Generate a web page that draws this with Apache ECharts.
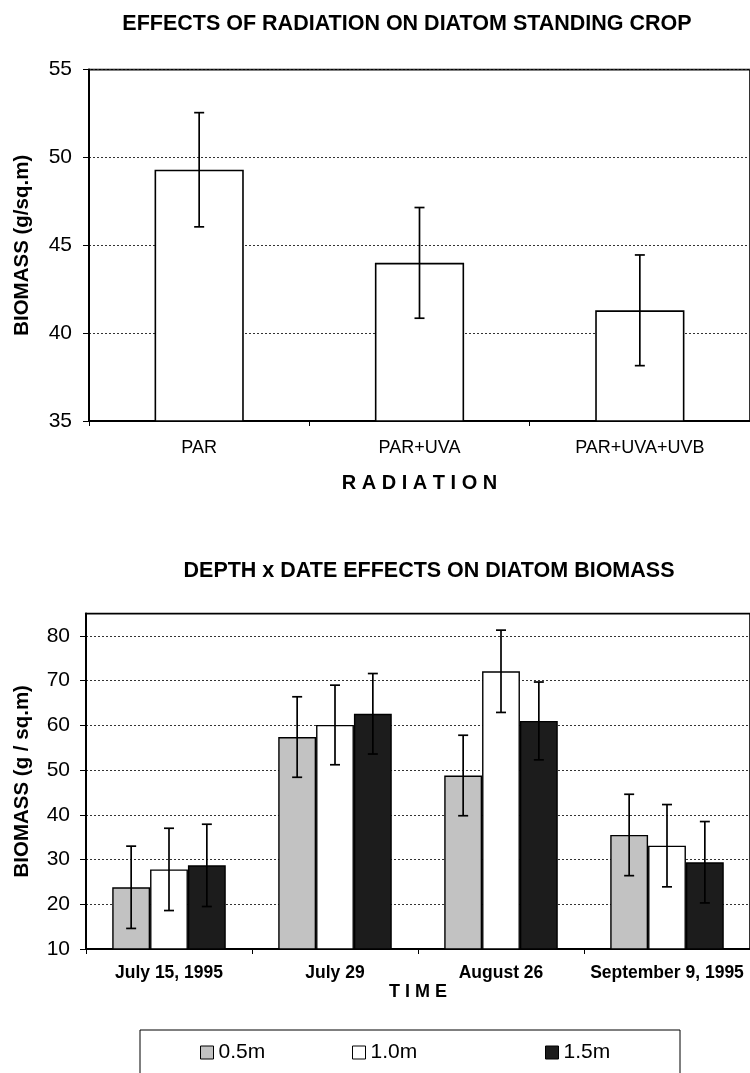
<!DOCTYPE html>
<html>
<head>
<meta charset="utf-8">
<script src="https://cdn.jsdelivr.net/npm/echarts@6/dist/echarts.min.js"></script>
<style>
html,body{margin:0;padding:0;background:#fff;}
#c{width:750px;height:1073px;}
</style>
</head>
<body>
<div id="c"></div>
<script>
// ---- Data (top chart) ----
const radiationCats = ['PAR', 'PAR+UVA', 'PAR+UVA+UVB'];
const radiationMean = [49.3, 44.0, 41.3];
const radiationErr = [3.25, 3.15, 3.15];
const yTicksTop = [35, 40, 45, 50, 55];

// ---- Data (bottom chart) ----
const dateCats = ['July 15, 1995', 'July 29', 'August 26', 'September 9, 1995'];
const depthNames = ['0.5m', '1.0m', '1.5m'];
const depth05 = [23.8, 57.4, 48.8, 35.5];
const depth10 = [27.8, 60.1, 72.1, 33.1];
const depth15 = [28.7, 62.6, 61.0, 29.4];
const err05 = [9.2, 9.0, 9.0, 9.1];
const err10 = [9.2, 8.9, 9.2, 9.2];
const err15 = [9.2, 9.0, 8.7, 9.1];
const yTicksBottom = [10, 20, 30, 40, 50, 60, 70, 80];

const FONT = "'Liberation Sans', Arial, sans-serif";
const BAR_FRAC_BOTTOM = 0.228;
const BAR_FRAC_TOP = 0.405;

function errData(means, errs) {
  return means.map((m, i) => [i, m, errs[i]]);
}

function makeErrRender(slot, nSlots, frac) {
  return function (params, api) {
    const i = api.value(0), m = api.value(1), e = api.value(2);
    const bw = api.size([1, 0])[0] * frac;
    const off = (slot - (nSlots - 1) / 2) * bw;
    const top = api.coord([i, m + e]);
    const bot = api.coord([i, m - e]);
    const x = top[0] + off;
    const cap = 5;
    const st = { stroke: '#000', lineWidth: 1.7 };
    return {
      type: 'group',
      children: [
        { type: 'line', shape: { x1: x, y1: top[1], x2: x, y2: bot[1] }, style: st },
        { type: 'line', shape: { x1: x - cap, y1: top[1], x2: x + cap, y2: top[1] }, style: st },
        { type: 'line', shape: { x1: x - cap, y1: bot[1], x2: x + cap, y2: bot[1] }, style: st }
      ]
    };
  };
}

const chart = echarts.init(document.getElementById('c'), null, { renderer: 'canvas' });

const splitDotted = { show: true, lineStyle: { color: '#333', type: [2, 2], width: 1 } };
const legendCommon = {
  padding: 0, itemWidth: 13, itemHeight: 13, icon: 'rect', top: 1042,
  textStyle: { fontSize: 21, color: '#000', fontFamily: FONT },
  itemStyle: { borderColor: '#000', borderWidth: 1 }
};

const option = {
  backgroundColor: '#fff',
  animation: false,
  textStyle: { fontFamily: FONT, color: '#000' },
  title: [
    { text: 'EFFECTS OF RADIATION ON DIATOM STANDING CROP', left: 402, top: 8, textAlign: 'center',
      textStyle: { fontSize: 21.5, fontWeight: 'bold', color: '#000', fontFamily: FONT } },
    { text: 'DEPTH x DATE EFFECTS ON DIATOM BIOMASS', left: 424, top: 555, textAlign: 'center',
      textStyle: { fontSize: 21.5, fontWeight: 'bold', color: '#000', fontFamily: FONT } }
  ],
  grid: [
    { left: 89, top: 69.6, width: 667, height: 351.4, show: true, borderColor: '#000', borderWidth: 1.6, backgroundColor: 'transparent' },
    { left: 86, top: 613.6, width: 668, height: 335.4, show: true, borderColor: '#000', borderWidth: 1.6, backgroundColor: 'transparent' }
  ],
  xAxis: [
    { type: 'category', gridIndex: 0, data: radiationCats,
      axisLine: { lineStyle: { color: '#000', width: 2 } },
      axisTick: { show: true, length: 5, lineStyle: { color: '#000', width: 1 } },
      axisLabel: { color: '#000', fontSize: 18, margin: 18, interval: 0, fontFamily: FONT },
      name: 'R A D I A T I O N', nameLocation: 'middle', nameGap: 52,
      nameTextStyle: { fontSize: 20, fontWeight: 'bold', color: '#000', fontFamily: FONT } },
    { type: 'category', gridIndex: 1, data: dateCats,
      axisLine: { lineStyle: { color: '#000', width: 2 } },
      axisTick: { show: true, length: 5, lineStyle: { color: '#000', width: 1 } },
      axisLabel: { color: '#000', fontSize: 17.5, fontWeight: 'bold', margin: 15, interval: 0, fontFamily: FONT },
      name: 'T I M E', nameLocation: 'middle', nameGap: 32,
      nameTextStyle: { fontSize: 18, fontWeight: 'bold', color: '#000', fontFamily: FONT } }
  ],
  yAxis: [
    { type: 'value', gridIndex: 0, min: 35, max: 55, interval: 5,
      axisLine: { show: true, lineStyle: { color: '#000', width: 2 } },
      axisTick: { show: true, length: 6, lineStyle: { color: '#000', width: 1 } },
      axisLabel: { color: '#000', fontSize: 21, margin: 17, fontFamily: FONT, customValues: yTicksTop },
      splitLine: splitDotted,
      name: 'BIOMASS (g/sq.m)', nameLocation: 'middle', nameGap: 56, nameRotate: 90,
      nameTextStyle: { fontSize: 20.5, fontWeight: 'bold', color: '#000', fontFamily: FONT } },
    { type: 'value', gridIndex: 1, min: 10, max: 85, interval: 10,
      axisLine: { show: true, lineStyle: { color: '#000', width: 2 } },
      axisTick: { show: true, length: 6, lineStyle: { color: '#000', width: 1 }, customValues: yTicksBottom },
      axisLabel: { color: '#000', fontSize: 21, margin: 16, fontFamily: FONT, customValues: yTicksBottom },
      splitLine: splitDotted,
      name: 'BIOMASS (g / sq.m)', nameLocation: 'middle', nameGap: 53, nameRotate: 90,
      nameTextStyle: { fontSize: 20.5, fontWeight: 'bold', color: '#000', fontFamily: FONT } }
  ],
  legend: [
    Object.assign({ data: ['0.5m'], left: 200 }, legendCommon),
    Object.assign({ data: ['1.0m'], left: 352 }, legendCommon),
    Object.assign({ data: ['1.5m'], left: 545 }, legendCommon)
  ],
  graphic: [
    { type: 'rect', shape: { x: 140, y: 1030, width: 540, height: 70 },
      style: { fill: 'none', stroke: '#000', lineWidth: 1 }, z: 10 }
  ],
  series: [
    { type: 'bar', name: 'Radiation', xAxisIndex: 0, yAxisIndex: 0, data: radiationMean,
      barWidth: (BAR_FRAC_TOP * 100) + '%',
      itemStyle: { color: '#fff', borderColor: '#000', borderWidth: 1.6 } },
    { type: 'custom', xAxisIndex: 0, yAxisIndex: 0, data: errData(radiationMean, radiationErr),
      renderItem: makeErrRender(0, 1, BAR_FRAC_TOP), z: 5 },

    { type: 'bar', name: depthNames[0], xAxisIndex: 1, yAxisIndex: 1, data: depth05,
      barWidth: (BAR_FRAC_BOTTOM * 100) + '%', barGap: '0%',
      itemStyle: { color: '#c2c2c2', borderColor: '#000', borderWidth: 1.4 } },
    { type: 'bar', name: depthNames[1], xAxisIndex: 1, yAxisIndex: 1, data: depth10,
      barWidth: (BAR_FRAC_BOTTOM * 100) + '%', barGap: '0%',
      itemStyle: { color: '#ffffff', borderColor: '#000', borderWidth: 1.4 } },
    { type: 'bar', name: depthNames[2], xAxisIndex: 1, yAxisIndex: 1, data: depth15,
      barWidth: (BAR_FRAC_BOTTOM * 100) + '%', barGap: '0%',
      itemStyle: { color: '#1c1c1c', borderColor: '#000', borderWidth: 1.4 } },
    { type: 'custom', xAxisIndex: 1, yAxisIndex: 1, data: errData(depth05, err05),
      renderItem: makeErrRender(0, 3, BAR_FRAC_BOTTOM), z: 5 },
    { type: 'custom', xAxisIndex: 1, yAxisIndex: 1, data: errData(depth10, err10),
      renderItem: makeErrRender(1, 3, BAR_FRAC_BOTTOM), z: 5 },
    { type: 'custom', xAxisIndex: 1, yAxisIndex: 1, data: errData(depth15, err15),
      renderItem: makeErrRender(2, 3, BAR_FRAC_BOTTOM), z: 5 }
  ]
};
chart.setOption(option);
</script>
</body>
</html>
